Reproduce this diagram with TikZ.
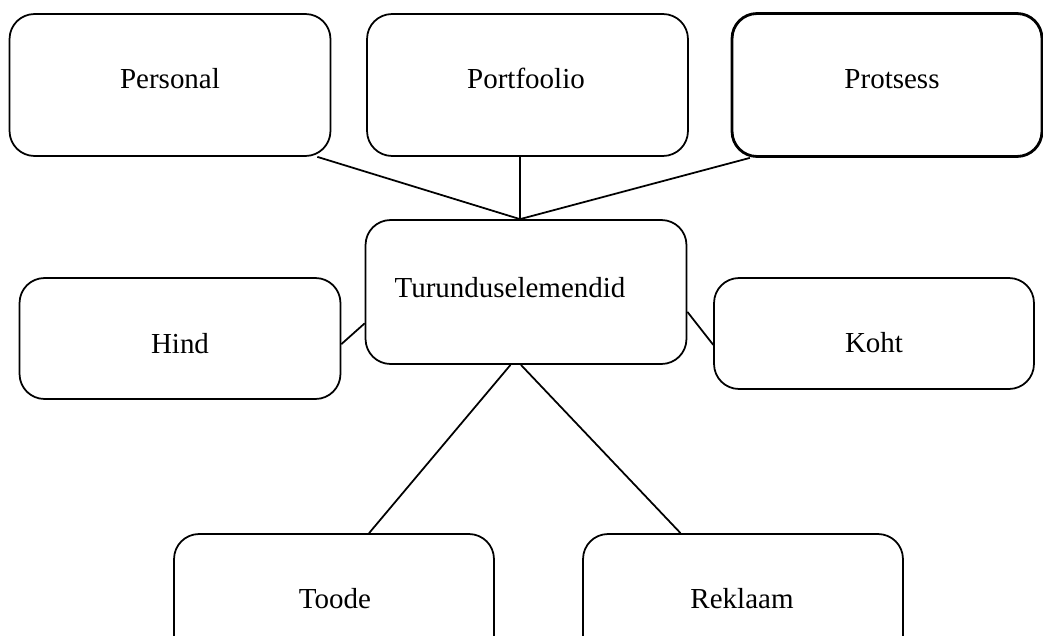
\documentclass[tikz,border=0pt]{standalone}
\usepackage{fontspec}
\setmainfont{Liberation Serif}
\usepackage{tikz}

\tikzset{
    box/.style={draw,rounded corners=0.5cm,line width=1pt,minimum width=6.42cm,minimum height=2.84cm,inner sep=0pt},
    word/.style={anchor=base,font=\fontsize{16.5}{20}\selectfont,inner sep=0pt}
}

\begin{document}
\begin{tikzpicture}[x=0.02cm,y=-0.02cm,line width=1pt]
    \useasboundingbox (0,0) rectangle (1043,635);
    \clip (0,0) rectangle (1043,635);
    % boxes
    \node[box] (personal) at (170,85) {};
    \node[box] (portfoolio) at (527.5,85) {};
    \node[box,line width=1.6pt,minimum width=6.2cm,minimum height=2.86cm] (protsess) at (887,85) {};
    \node[box,minimum height=2.88cm] (turundus) at (526,292) {};
    \node[box,minimum height=2.42cm] (hind) at (180,338.5) {};
    \node[box,minimum width=6.4cm,minimum height=2.22cm] (koht) at (874,333.5) {};
    \node[box,minimum width=6.4cm] (toode) at (334,605) {};
    \node[box,minimum width=6.4cm] (reklaam) at (743,605) {};
    % texts
    \node[word] (t1) at (170,89) {Personal};
    \node[word] (t2) at (526,89) {Portfoolio};
    \node[word] (t3) at (892,89) {Protsess};
    \node[word] (t4) at (510,297) {Turunduselemendid};
    \node[word] (t5) at (180,353) {Hind};
    \node[word] (t6) at (874,352) {Koht};
    \node[word] (t7) at (335,608) {Toode};
    \node[word] (t8) at (742,608) {Reklaam};
    % connectors
    \coordinate (top) at ([xshift=-0.12cm]turundus.north);
    \draw (personal.-26.4) -- (top);
    \draw ([xshift=-0.15cm]portfoolio.south) -- (top);
    \draw (protsess.-152.6) -- (top);
    \draw (hind.-2.3) -- (turundus.-169.4);
    \draw (turundus.-7.1) -- (koht.184.1);
    \draw (turundus.-102.5) -- (toode.64.4);
    \draw (turundus.-94) -- (reklaam.131.1);
\end{tikzpicture}
\end{document}
